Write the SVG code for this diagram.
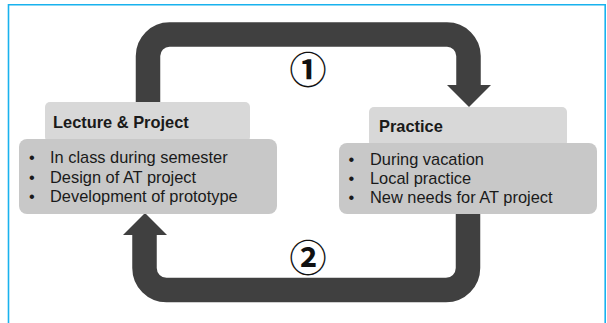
<svg xmlns="http://www.w3.org/2000/svg" width="607" height="323" viewBox="0 0 607 323">
<defs>
<style>
.frame{fill:none;stroke:#19b2ee;stroke-width:1.6}
.band{fill:none;stroke:#404040;stroke-width:24.5}
.head{fill:#404040}
.hbox{fill:#d8d8d8}
.bbox{fill:#c8c8c8}
.t{font-family:"Liberation Sans",Arial,sans-serif;font-size:16.4px;fill:#1a1a1a}
.b{font-weight:bold}
.num{font-family:"Noto Sans CJK KR","Noto Sans CJK JP",sans-serif;font-size:37px;font-weight:bold;fill:#111}
</style>
</defs>
<rect width="607" height="323" fill="#ffffff"/>
<path class="frame" d="M8.5,323 V4.8 H605.2 V323"/>
<g id="connectors">
<g id="arrow1">
<path class="band" d="M148,102 V56 A21.5,21.5 0 0 1 169.5,34.5 H447 A21.5,21.5 0 0 1 468.5,56 V86"/>
<polygon class="head" points="447,85 491,85 469,107"/>
</g>
<g id="arrow2">
<path class="band" d="M468,214 V268 A22,22 0 0 1 446,290 H166.5 A22,22 0 0 1 144.5,268 V234"/>
<polygon class="head" points="123,235 167,235 145,213"/>
</g>
</g>
<g id="lecture">
<rect class="hbox" x="45" y="102" width="205" height="40" rx="5"/>
<rect class="bbox" x="19" y="139" width="258" height="75" rx="8"/>
<text class="t b" x="53" y="128">Lecture &amp; Project</text>
<text class="t" x="29" y="163">•</text>
<text class="t" x="50" y="163">In class during semester</text>
<text class="t" x="29" y="182.5">•</text>
<text class="t" x="50" y="182.5">Design of AT project</text>
<text class="t" x="29" y="201.5">•</text>
<text class="t" x="50" y="201.5">Development of prototype</text>
</g>
<g id="practice">
<rect class="hbox" x="369" y="107" width="198" height="40" rx="5"/>
<rect class="bbox" x="339" y="143" width="258" height="71" rx="8"/>
<text class="t b" x="379" y="131.5">Practice</text>
<text class="t" x="348.5" y="165">•</text>
<text class="t" x="370" y="165">During vacation</text>
<text class="t" x="348.5" y="184">•</text>
<text class="t" x="370" y="184">Local practice</text>
<text class="t" x="348.5" y="203">•</text>
<text class="t" x="370" y="203">New needs for AT project</text>
</g>
<g id="label1"><text class="num" x="308" y="67.5" text-anchor="middle" dominant-baseline="central">①</text></g>
<g id="label2"><text class="num" x="308" y="256" text-anchor="middle" dominant-baseline="central">②</text></g>
</svg>
